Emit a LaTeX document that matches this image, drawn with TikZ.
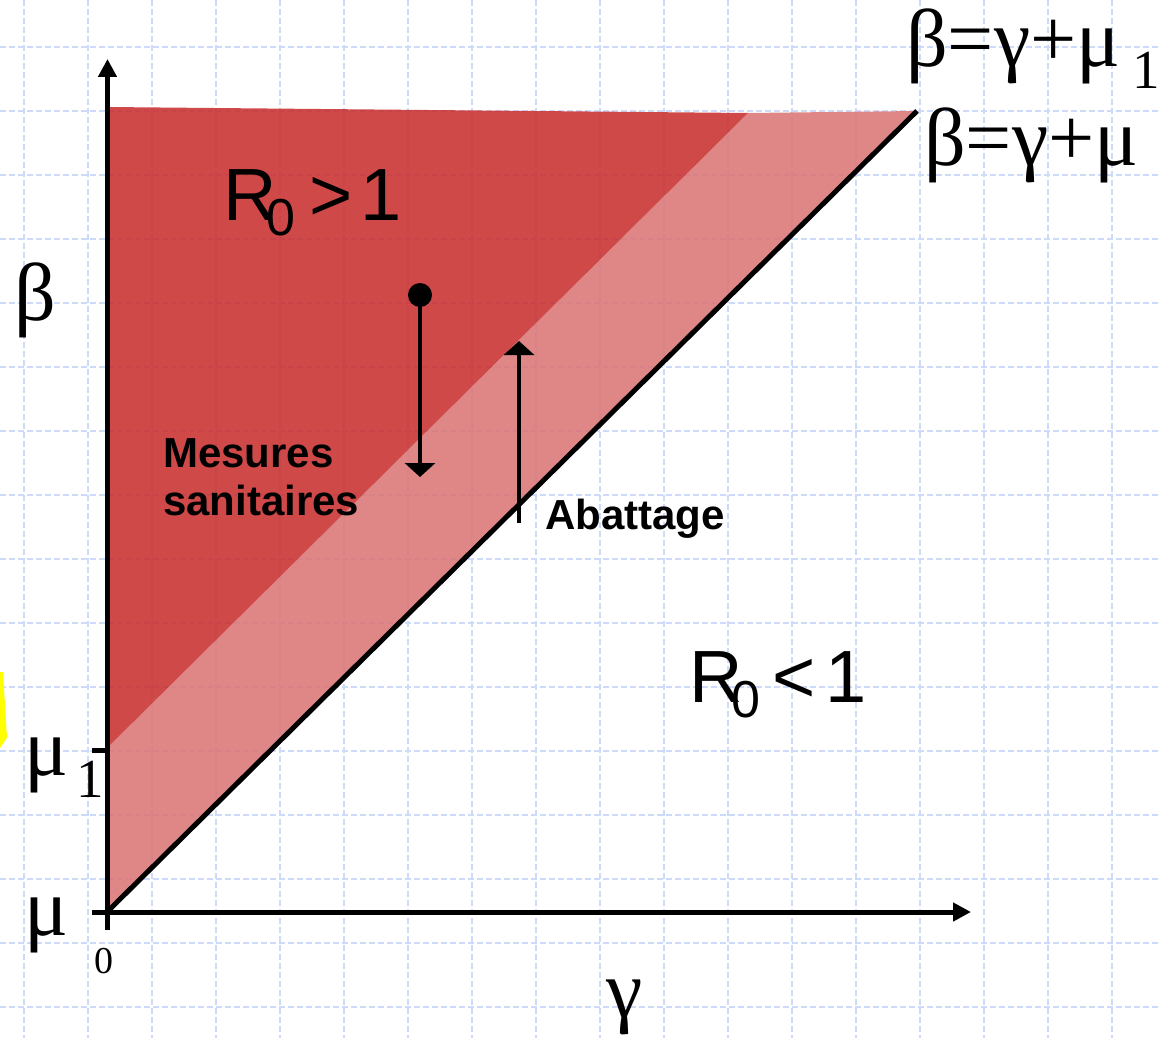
\documentclass[tikz,border=0pt]{standalone}
\usepackage{fontspec}
\setmainfont{Liberation Serif}
\newfontfamily\arialf{Liberation Sans}
\usetikzlibrary{arrows.meta}
\definecolor{gridblue}{RGB}{206,218,250}
\definecolor{darkreg}{RGB}{200,42,42}
\definecolor{lightreg}{RGB}{218,115,115}
\definecolor{yel}{RGB}{255,255,0}
\tikzset{
  gridline/.style={draw=gridblue, line width=1.2pt, dash pattern=on 6pt off 3pt},
  axisline/.style={line width=5pt},
  axistip/.style={-{Triangle[length=18pt,width=18pt]}},
  moveline/.style={line width=4pt, -{Triangle[length=14pt,width=30pt]}},
  greek/.style={inner sep=0pt, anchor=base west, font=\fontsize{82}{82}\selectfont},
  sanslab/.style={inner sep=0pt, anchor=base west, font=\arialf\fontsize{74}{74}\selectfont},
  boldlab/.style={inner sep=0pt, anchor=base west, font=\arialf\bfseries\fontsize{42}{48}\selectfont},
}
\begin{document}
\begin{tikzpicture}[x=1pt,y=-1pt]
\useasboundingbox (0,0) rectangle (1161,1038);
\fill[white] (0,0) rectangle (1161,1038);
% grid
\foreach \gx in {24,88,...,1112} \draw[gridline] (\gx,0) -- (\gx,1038);
\foreach \gy in {47,111,...,1007} \draw[gridline] (0,\gy) -- (1161,\gy);
% yellow sliver
\fill[yel] (0,672) -- (3,672) -- (7,738) -- (0,748) -- cycle;
% regions
\coordinate (O) at (107,912);
\coordinate (TL) at (107,107);
\coordinate (TR) at (917,111);
\coordinate (D1) at (748,113);
\coordinate (M1) at (107,748);
\fill[lightreg, opacity=0.85] (O) -- (TR) -- (D1) -- (M1) -- cycle;
\fill[darkreg, opacity=0.85] (M1) -- (D1) -- (TL) -- cycle;
% axes
\coordinate (ybot) at (107.5,930);
\coordinate (ytip) at (107.5,59);
\coordinate (xleft) at (92,912);
\coordinate (xtip) at (971,912);
\draw[axisline, axistip] (ybot) -- (ytip);
\draw[axisline, axistip] (xleft) -- (xtip);
\coordinate (mu1tick) at (92,750);
\coordinate (mu1ax) at (107.5,750);
\draw[axisline] (mu1tick) -- (mu1ax);
% diagonal line beta = gamma + mu
\draw[axisline] (O) -- (TR);
% arrows
\coordinate (dot) at (420,295);
\coordinate (dtip) at (420,477);
\coordinate (ubase) at (519,523);
\coordinate (utip) at (519,341);
\fill (dot) circle (12);
\draw[moveline] (dot) -- (dtip);
\draw[moveline] (ubase) -- (utip);
% labels
\node[greek] (lab1) at (906,67) {β=γ+μ\kern12pt\raisebox{-22pt}{\fontsize{55}{55}\selectfont 1}};
\node[greek] (lab2) at (924,165) {β=γ+μ};
\node[greek] (betaax) at (14,320) {β};
\node[greek] (mu1lab) at (24,775) {μ\kern8pt\raisebox{-22pt}{\fontsize{55}{55}\selectfont 1}};
\node[greek] (muax) at (24,935) {μ};
\node[greek] (gammaax) at (606,1017) {γ};
\node[inner sep=0pt, anchor=base, font=\fontsize{38}{38}\selectfont] (zero) at (104,973) {0};
\node[sanslab] (rbig) at (223,220) {R\kern-10pt\raisebox{-15pt}{\fontsize{52}{52}\selectfont 0}\kern14pt>\kern8pt1};
\node[sanslab] (rsmall) at (689,702) {R\kern-11pt\raisebox{-15pt}{\fontsize{52}{52}\selectfont 0}\kern11.5pt<\kern10.5pt1};
\node[boldlab] (mesures) at (163,467) {\vtop{\hbox{Mesures}\hbox{sanitaires}}};
\node[boldlab] (abat) at (545,529) {Abattage};
\end{tikzpicture}
\end{document}
